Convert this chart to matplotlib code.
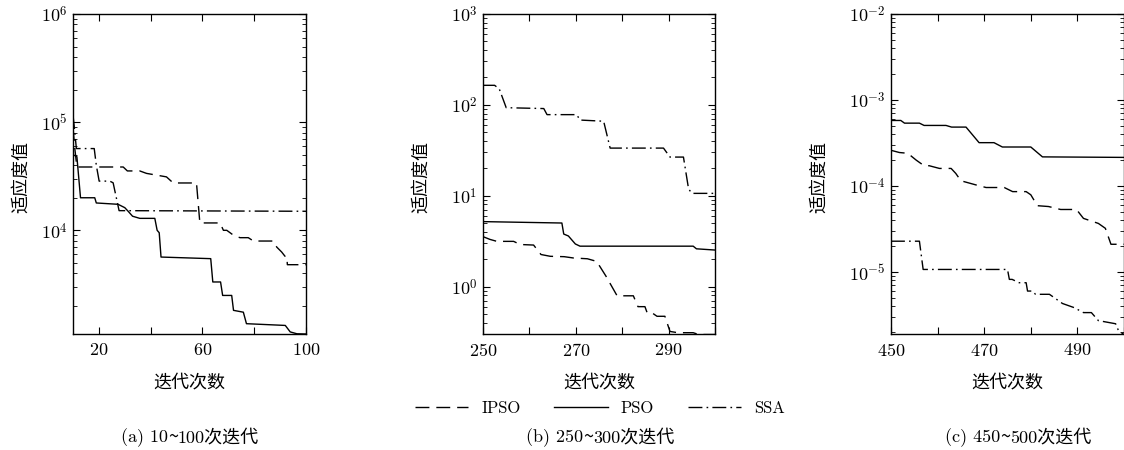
import math

import matplotlib
matplotlib.use("Agg")
import matplotlib.pyplot as plt
from matplotlib.lines import Line2D
from matplotlib.ticker import FixedLocator, FuncFormatter, LogLocator, NullFormatter

plt.rcParams["mathtext.fontset"] = "cm"
plt.rcParams["font.family"] = ["cmr10", "Noto Sans CJK SC", "DejaVu Sans"]
plt.rcParams["axes.unicode_minus"] = False

CJK = ["Noto Sans CJK SC", "DejaVu Sans"]
LATIN = ["cmr10", "Noto Sans CJK SC", "DejaVu Sans"]

# (a) 10~100 iterations
a_ipso_x = [10, 10.6, 11.5, 29.4, 31.0, 35.8, 38.4, 46.1, 48.7, 55.2, 57.7, 59.0,
            66.8, 68.1, 69.4, 72.0, 74.5, 77.7, 79.7, 87.4, 88.7, 90.6, 91.9, 92.6, 92.8, 100]
a_ipso_y = [90000, 60000, 38500, 38500, 35400, 35400, 33600, 31200, 27400, 27400, 27400, 11700,
            11700, 10000, 10000, 9000, 8550, 8550, 7960, 7960, 7000, 6300, 5750, 5750, 4810, 4810]
a_pso_x = [10, 11.5, 12.9, 18.4, 19.0, 27.4, 30.0, 31.3, 33.0, 35.8, 41.6, 42.5, 43.3, 44.0,
           63.2, 64.0, 67.0, 67.8, 71.3, 72.0, 75.8, 77.0, 92.0, 93.9, 96.5, 100]
a_pso_y = [50000, 48000, 20000, 20000, 17900, 17400, 16200, 15000, 13500, 12900, 12900, 10000, 9500, 5660,
           5470, 3330, 3330, 2500, 2500, 1820, 1750, 1370, 1320, 1150, 1105, 1100]
a_ssa_x = [10, 10.5, 11.3, 18.2, 19.0, 20.1, 24.2, 25.5, 27.8, 100]
a_ssa_y = [116000, 90000, 57000, 57000, 40000, 28500, 28500, 27500, 15200, 15000]

# (b) 250~300 iterations
b_ipso_x = [250, 251.5, 253.0, 256.6, 258.0, 260.9, 262.5, 264.5, 267.5, 269.5, 272.5, 274.5,
            276.5, 278.9, 282.4, 283.4, 284.9, 285.4, 286.5, 287.5, 289.2, 290.3, 292.0, 295.3, 296.5, 300]
b_ipso_y = [3.54, 3.3, 3.14, 3.14, 2.9, 2.86, 2.25, 2.15, 2.13, 2.06, 2.02, 1.89,
            1.3, 0.79, 0.79, 0.6, 0.6, 0.51, 0.51, 0.47, 0.47, 0.32, 0.31, 0.31, 0.296, 0.296]
b_pso_x = [250, 267.0, 267.4, 268.4, 269.9, 270.9, 295.3, 296.0, 300]
b_pso_y = [5.18, 5.0, 3.78, 3.6, 2.94, 2.78, 2.78, 2.6, 2.52]
b_ssa_x = [250, 252.5, 253.5, 255.0, 263.1, 263.8, 270.2, 270.9, 276.0, 277.4,
           288.9, 290.3, 293.2, 294.3, 295.0, 300]
b_ssa_y = [164, 164, 150, 93, 91, 78, 78, 68, 66, 33.4,
           33.4, 26.6, 26.6, 11.9, 10.6, 10.6]

# (c) 450~500 iterations
c_ipso_x = [450, 451.8, 453.6, 455.4, 457.1, 458.2, 460.4, 462.9, 463.9, 465.0, 468.2, 470.4,
            474.3, 476.1, 479.0, 480.0, 481.4, 483.8, 486.4, 489.8, 491.3, 494.5, 496.0, 497.2, 500]
c_ipso_y = [2.6e-4, 2.45e-4, 2.4e-4, 2.0e-4, 1.72e-4, 1.72e-4, 1.6e-4, 1.6e-4, 1.4e-4, 1.15e-4, 1.03e-4, 9.6e-5,
            9.6e-5, 8.6e-5, 8.6e-5, 7.9e-5, 5.9e-5, 5.77e-5, 5.33e-5, 5.33e-5, 4.2e-5, 3.67e-5, 3.22e-5, 2.1e-5, 2.1e-5]
c_pso_x = [450, 452.1, 452.9, 456.1, 457.1, 461.8, 463.0, 466.1, 468.9, 472.1, 473.9, 480.0, 482.5, 500]
c_pso_y = [5.78e-4, 5.78e-4, 5.38e-4, 5.38e-4, 5.06e-4, 5.06e-4, 4.84e-4, 4.84e-4, 3.19e-4, 3.19e-4,
           2.84e-4, 2.84e-4, 2.18e-4, 2.15e-4]
c_ssa_x = [450, 456.1, 456.9, 475.0, 475.4, 476.0, 477.5, 479.0, 479.3, 480.4, 481.0, 484.0,
           486.8, 489.3, 491.3, 493.0, 494.5, 498.2, 498.8, 500]
c_ssa_y = [2.28e-5, 2.28e-5, 1.07e-5, 1.07e-5, 8.2e-6, 8.2e-6, 7.5e-6, 7.5e-6, 6.0e-6, 6.0e-6, 5.5e-6, 5.5e-6,
           4.3e-6, 3.85e-6, 3.37e-6, 3.37e-6, 2.72e-6, 2.5e-6, 2.09e-6, 1.87e-6]

# captions, split so the tilde can come from a font that draws it at mid height
captions = [["(a) 10", "~", "100次迭代"], ["(b) 250", "~", "300次迭代"], ["(c) 450", "~", "500次迭代"]]

panels = [
    {"rect": [73 / 1124, 116 / 450, 233 / 1124, 320 / 450], "xlim": (10, 100), "ylim": (1.1e3, 1e6),
     "xticks": [20, 40, 60, 80, 100], "xlabels": ["20", "", "60", "", "100"],
     "series": [(a_ipso_x, a_ipso_y), (a_pso_x, a_pso_y), (a_ssa_x, a_ssa_y)],
     "ylabel_x": -0.185, "caption_x": 190},
    {"rect": [483 / 1124, 116 / 450, 232 / 1124, 320 / 450], "xlim": (250, 300), "ylim": (0.3, 1e3),
     "xticks": [250, 260, 270, 280, 290, 300], "xlabels": ["250", "", "270", "", "290", ""],
     "series": [(b_ipso_x, b_ipso_y), (b_pso_x, b_pso_y), (b_ssa_x, b_ssa_y)],
     "ylabel_x": -0.228, "caption_x": 600},
    {"rect": [891 / 1124, 116 / 450, 233 / 1124, 320 / 450], "xlim": (450, 500), "ylim": (1.9e-6, 1e-2),
     "xticks": [450, 460, 470, 480, 490, 500], "xlabels": ["450", "", "470", "", "490", ""],
     "series": [(c_ipso_x, c_ipso_y), (c_pso_x, c_pso_y), (c_ssa_x, c_ssa_y)],
     "ylabel_x": -0.27, "caption_x": 1018},
]

styles = [
    {"linestyle": (0, (10, 5)), "label": "IPSO"},
    {"linestyle": "-", "label": "PSO"},
    {"linestyle": (0, (10, 3, 1.2, 3)), "label": "SSA"},
]


def draw_caption(fig, center_px, parts):
    # place the pieces side by side on one baseline, centred on center_px
    renderer = fig.canvas.get_renderer()
    families = [LATIN, CJK, LATIN]
    texts = [fig.text(0, 1 - 442 / 450, part, family=fam, fontsize=13, ha="left", va="baseline")
             for part, fam in zip(parts, families)]
    widths = [t.get_window_extent(renderer).width for t in texts]
    left = center_px - sum(widths) / 2
    for t, w in zip(texts, widths):
        t.set_x(left / 1124)
        left += w


def draw_panel(fig, panel):
    ax = fig.add_axes(panel["rect"])
    for (xs, ys), style in zip(panel["series"], styles):
        ax.plot(xs, ys, color="black", linewidth=1.0, linestyle=style["linestyle"])
    ax.set_yscale("log")
    ax.set_xlim(*panel["xlim"])
    ax.set_ylim(*panel["ylim"])

    ax.xaxis.set_major_locator(FixedLocator(panel["xticks"]))
    ax.set_xticklabels(["$%s$" % t if t else "" for t in panel["xlabels"]])
    ax.yaxis.set_major_locator(LogLocator(base=10))
    ax.yaxis.set_minor_locator(LogLocator(base=10, subs=range(2, 10)))
    ax.yaxis.set_major_formatter(FuncFormatter(lambda v, p: r"$10^{%d}$" % round(math.log10(v))))
    ax.yaxis.set_minor_formatter(NullFormatter())

    ax.tick_params(which="both", direction="in", top=True, right=True, labelsize=13, color="black")
    ax.tick_params(which="major", length=5, width=0.8, pad=6)
    ax.tick_params(which="minor", length=3, width=0.6)
    ax.tick_params(axis="y", which="major", pad=4)
    for spine in ax.spines.values():
        spine.set_linewidth(1.0)

    ax.set_ylabel("适应度值", family=CJK, fontsize=13)
    ax.yaxis.set_label_coords(panel["ylabel_x"], 0.49)
    ax.set_xlabel("迭代次数", family=CJK, fontsize=13)
    ax.xaxis.label.set_va("center")
    ax.xaxis.set_label_coords(0.5, -0.15)
    return ax


def plot_convergence() -> None:
    fig = plt.figure(figsize=(11.24, 4.5), dpi=100)
    for panel, caption in zip(panels, captions):
        draw_panel(fig, panel)
        draw_caption(fig, panel["caption_x"], caption)

    handles = [Line2D([], [], color="black", linewidth=1.0, linestyle=s["linestyle"]) for s in styles]
    fig.legend(handles, [s["label"] for s in styles], loc="center", ncol=3, frameon=False,
               bbox_to_anchor=(600 / 1124, 1 - 408 / 450), handlelength=3.2,
               columnspacing=2.0, handletextpad=0.8, prop={"family": LATIN, "size": 12})

    fig.savefig("out.png", dpi=100)


if __name__ == "__main__":
    plot_convergence()
